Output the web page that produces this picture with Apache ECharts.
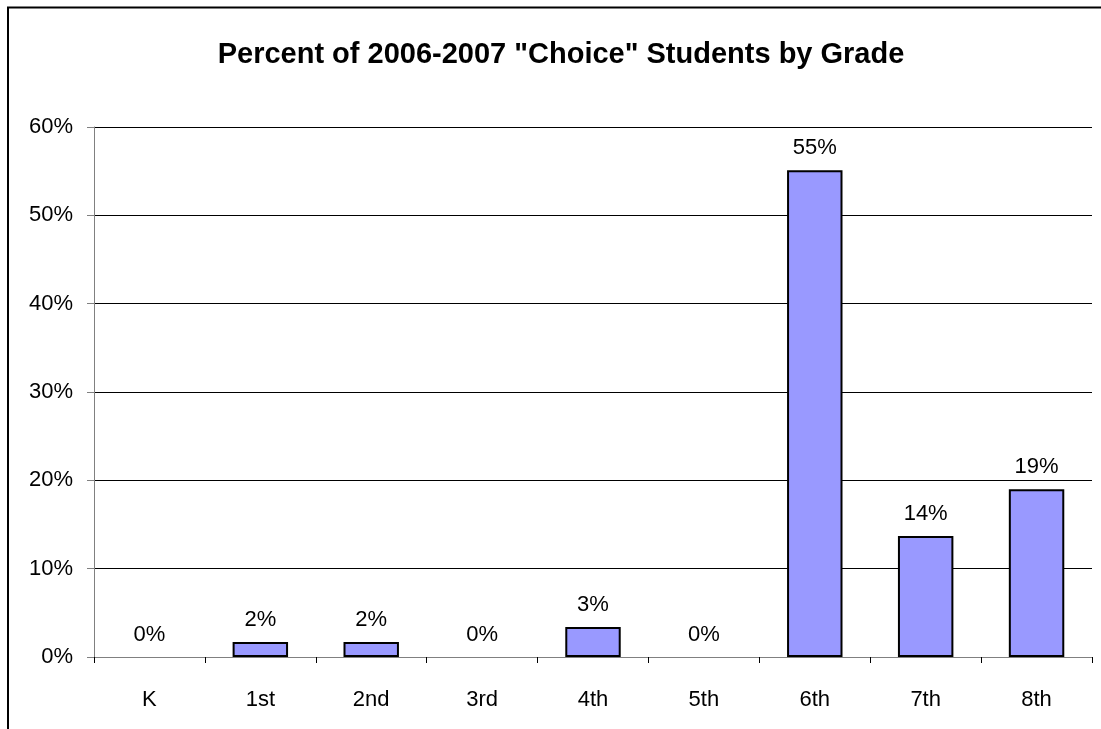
<!DOCTYPE html>
<html>
<head>
<meta charset="utf-8">
<script src="https://cdn.jsdelivr.net/npm/echarts@6/dist/echarts.min.js"></script>
<style>html,body{margin:0;padding:0;background:#fff;}#c{width:1101px;height:729px;}</style>
</head>
<body>
<div id="c"></div>
<script>
const categories = ['K', '1st', '2nd', '3rd', '4th', '5th', '6th', '7th', '8th'];
const values = [0, 1.7, 1.7, 0, 3.4, 0, 55.1, 13.7, 19.0];
const titleText = 'Percent of 2006-2007 "Choice" Students by Grade';
const FONT = '"Liberation Sans", Arial, sans-serif';

const seriesData = values.map(v => ({
  value: v,
  itemStyle: v === 0 ? {borderWidth: 0} : undefined
}));

const chart = echarts.init(document.getElementById('c'), null, {renderer: 'canvas'});
chart.setOption({
  animation: false,
  backgroundColor: '#fff',
  graphic: [{
    type: 'rect', z: 100, silent: true,
    shape: {x: 8, y: 7.5, width: 1200, height: 800},
    style: {fill: 'none', stroke: '#000', lineWidth: 2}
  }],
  title: {
    text: titleText, left: 556, top: 35, textAlign: 'center',
    textStyle: {fontFamily: FONT, fontSize: 29, fontWeight: 'bold', color: '#000'}
  },
  grid: {left: 94, right: 9, top: 127, bottom: 72},
  xAxis: {
    type: 'category', data: categories,
    axisLine: {lineStyle: {color: '#808080', width: 1}},
    axisTick: {show: true, length: 6, lineStyle: {color: '#000'}},
    axisLabel: {fontFamily: FONT, fontSize: 22, color: '#000', margin: 32}
  },
  yAxis: {
    type: 'value', min: 0, max: 60, interval: 10,
    axisLine: {show: true, lineStyle: {color: '#808080', width: 1}},
    axisTick: {show: true, length: 7, lineStyle: {color: '#808080'}},
    axisLabel: {formatter: '{value}%', fontFamily: FONT, fontSize: 22, color: '#000', margin: 21},
    splitLine: {lineStyle: {color: '#000', width: 1}}
  },
  series: [{
    type: 'bar', data: seriesData, barWidth: '50%',
    itemStyle: {color: '#9999FF', borderColor: '#000', borderWidth: 2},
    label: {
      show: true, position: 'top', distance: 11,
      formatter: p => Math.round(p.value) + '%',
      fontFamily: FONT, fontSize: 22, color: '#000'
    }
  }]
});
</script>
</body>
</html>
